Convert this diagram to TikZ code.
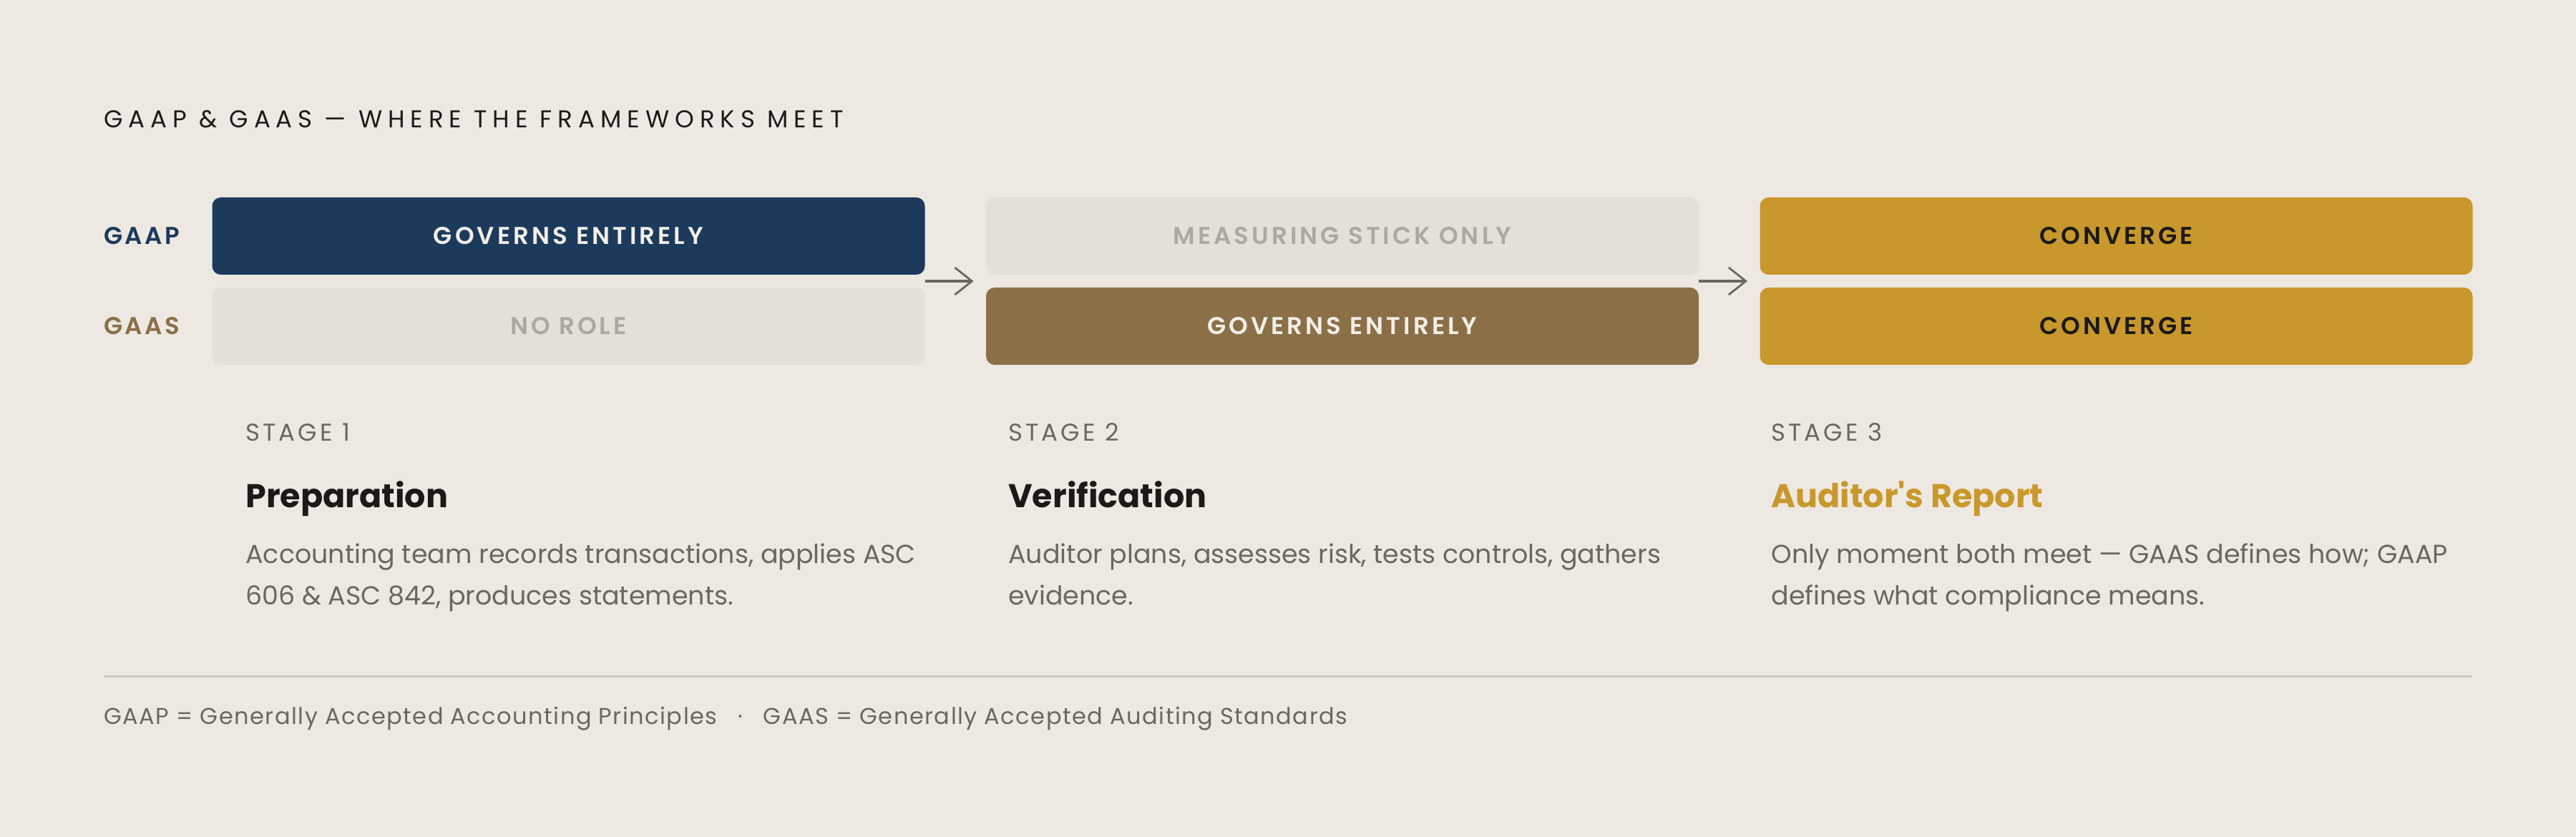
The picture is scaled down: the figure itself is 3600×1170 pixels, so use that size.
\documentclass[tikz,border=0pt]{standalone}
\usepackage{fontspec}
\setmainfont{Poppins}
\newfontfamily\semib{Poppins SemiBold}
\usetikzlibrary{arrows.meta,calc}
\definecolor{bg}{HTML}{EDE9E2}
\definecolor{navy}{HTML}{1B3A5C}
\definecolor{brownish}{HTML}{8B6F47}
\definecolor{gold}{HTML}{C9982C}
\definecolor{emptybox}{HTML}{E4E0D9}
\definecolor{emptytxt}{HTML}{ADA8A0}
\definecolor{ink}{HTML}{1C1A17}
\definecolor{mute}{HTML}{6B6660}
\definecolor{rulecol}{HTML}{CBC6BE}
\definecolor{cream}{HTML}{F2EEE7}
\newcommand{\trk}[1]{\addfontfeatures{LetterSpace=#1}}
\newcommand{\straightap}{\XeTeXglyph\XeTeXcharglyph"27\relax}
\tikzset{
  bar/.style={rounded corners=6pt, minimum width=498pt, minimum height=54pt, inner sep=0pt,
    font=\fontsize{17}{19}\semib\trk{12}},
  fullnavy/.style={bar, fill=navy, text=cream},
  fullbrown/.style={bar, fill=brownish, text=cream},
  conv/.style={bar, fill=gold, text=ink},
  nobar/.style={bar, fill=emptybox, text=emptytxt},
  rowlab/.style={anchor=west, inner sep=0pt, font=\fontsize{17}{19}\semib\trk{10}},
  stagelab/.style={anchor=base west, inner sep=0pt, text=mute, font=\fontsize{17}{19}\selectfont\trk{12}},
  heading/.style={anchor=base west, inner sep=0pt, text=ink, font=\fontsize{23}{26}\selectfont\bfseries},
  body/.style={anchor=base west, inner sep=0pt, text=mute, font=\fontsize{18.2}{20}\selectfont},
  flow/.style={draw=mute, line width=1.6pt, shorten >=8.5pt, -{Straight Barb[length=12pt,width=19pt,line width=1.4pt]}},
}
\begin{document}
\begin{tikzpicture}[x=0.5pt,y=-0.5pt]
\fill[bg] (0,0) rectangle (3600,1170);
\useasboundingbox (0,0) rectangle (3600,1170);
% title
\node[anchor=base west, inner sep=0pt, text=ink, font=\fontsize{17}{19}\selectfont\trk{23.5}] (title) at (145,179) {GAAP \& GAAS — WHERE THE FRAMEWORKS MEET};
% row labels
\node[rowlab, text=navy] (lgaap) at (145,330) {GAAP};
\node[rowlab, text=brownish] (lgaas) at (145,456) {GAAS};
% stage 1
\node[fullnavy] (g1) at (794.5,330) {GOVERNS ENTIRELY};
\node[nobar] (s1) at (794.5,456) {NO ROLE};
% stage 2
\node[nobar] (g2) at (1876,330) {MEASURING STICK ONLY};
\node[fullbrown] (s2) at (1876,456) {GOVERNS ENTIRELY};
% stage 3
\node[conv] (g3) at (2957.5,330) {CONVERGE};
\node[conv] (s3) at (2957.5,456) {CONVERGE};
% arrows
\draw[flow] ($(g1.south east)!.5!(s1.north east)$) -- ($(g2.south west)!.5!(s2.north west)$);
\draw[flow] ($(g2.south east)!.5!(s2.north east)$) -- ($(g3.south west)!.5!(s3.north west)$);
% stage texts
\node[stagelab] (st1) at (343,617) {STAGE 1};
\node[heading] (h1) at (343,710) {Preparation};
\node[body] (b1a) at (343,788) {Accounting team records transactions, applies ASC};
\node[body] (b1b) at (343,845) {606 \& ASC 842, produces statements.};
\node[stagelab] (st2) at (1409,617) {STAGE 2};
\node[heading] (h2) at (1409,710) {Verification};
\node[body] (b2a) at (1409,788) {Auditor plans, assesses risk, tests controls, gathers};
\node[body] (b2b) at (1409,845) {evidence.};
\node[stagelab] (st3) at (2475,617) {STAGE 3};
\node[heading, text=gold] (h3) at (2475,710) {Auditor\straightap s Report};
\node[body] (b3a) at (2475,788) {Only moment both meet — GAAS defines how; GAAP};
\node[body] (b3b) at (2475,845) {defines what compliance means.};
% rule and footer
\draw[rulecol, line width=1.5pt] (145,945) -- (3455,945);
\node[anchor=base west, inner sep=0pt, text=mute, font=\fontsize{16}{18}\selectfont\trk{4.7}] (foot) at (145,1012)
  {GAAP = Generally Accepted Accounting Principles\hspace{0.9em}·\hspace{0.9em}GAAS = Generally Accepted Auditing Standards};
\end{tikzpicture}
\end{document}
